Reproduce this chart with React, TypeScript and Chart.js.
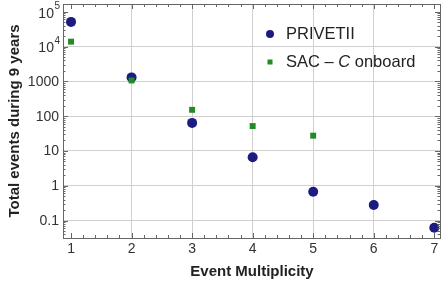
import React, { useEffect, useRef } from "react";
import { Chart, registerables } from "chart.js";

Chart.register(...registerables);

const multiplicity = [1, 2, 3, 4, 5, 6, 7];
const privetii = [51000, 1300, 64, 6.6, 0.67, 0.28, 0.062];
const sacMultiplicity = [1, 2, 3, 4, 5];
const sacC = [13800, 1060, 152, 52, 27.5];
const yTickValues = [0.1, 1, 10, 100, 1000, 10000, 100000];
const xTickValues = [1, 2, 3, 4, 5, 6, 7];
const yTickLabels = ["0.1", "1", "10", "100", "1000", "10^4", "10^5"];

const FONT = "'Liberation Sans', Arial, sans-serif";
const BLUE = "#1b1b82";
const GREEN = "#238b23";
const FRAME = "#666666";
const GRID = "#d0d0d0";

const framePlugin = {
  id: "framePlugin",
  afterDraw(chart: any) {
    const ctx = chart.ctx;
    const { left, right, top, bottom } = chart.chartArea;
    const xs = chart.scales.x;
    const ys = chart.scales.y;
    ctx.save();
    ctx.strokeStyle = FRAME;
    ctx.lineWidth = 1;
    ctx.strokeRect(Math.round(left) + 0.5, Math.round(top) + 0.5, Math.round(right - left) - 1, Math.round(bottom - top));
    // x ticks
    ctx.beginPath();
    for (let i = 0; i <= 35; i++) {
      const v = 0.8 + i * 0.2;
      const px = Math.round(xs.getPixelForValue(v)) + 0.5;
      if (px < left || px > right - 1) continue;
      const major = Math.abs(v - Math.round(v)) < 1e-6;
      const len = major ? 5 : 3;
      ctx.moveTo(px, bottom);
      ctx.lineTo(px, bottom - len);
      ctx.moveTo(px, top);
      ctx.lineTo(px, top + len);
    }
    // y ticks
    for (let e = -2; e <= 5; e++) {
      for (let m = 1; m <= 9; m++) {
        const v = m * Math.pow(10, e);
        const py = Math.round(ys.getPixelForValue(v)) + 0.5;
        if (py < top || py > bottom) continue;
        const len = m === 1 ? 5 : 2.5;
        ctx.moveTo(left, py);
        ctx.lineTo(left + len, py);
        ctx.moveTo(right - 1, py);
        ctx.lineTo(right - 1 - len, py);
      }
    }
    ctx.stroke();

    // x tick labels
    ctx.fillStyle = "#333333";
    ctx.textAlign = "center";
    ctx.textBaseline = "middle";
    ctx.font = `14px ${FONT}`;
    xTickValues.forEach((v) => {
      ctx.fillText(String(v), xs.getPixelForValue(v), bottom + 11.5);
    });

    // y tick labels
    ctx.textAlign = "right";
    const lx = left - 4;
    yTickValues.forEach((v, i) => {
      const py = ys.getPixelForValue(v);
      const lab = yTickLabels[i];
      if (lab.indexOf("^") >= 0) {
        const [base, sup] = lab.split("^");
        ctx.font = `10px ${FONT}`;
        const sw = ctx.measureText(sup).width;
        ctx.fillText(sup, lx + 1, py - 5);
        ctx.font = `14px ${FONT}`;
        ctx.fillText(base, lx + 0.5 - sw, py + 2);
      } else {
        ctx.font = `14px ${FONT}`;
        ctx.fillText(lab, lx, py + 0.5);
      }
    });

    // legend
    const lxm = 270;
    const ly1 = 34;
    const ly2 = 62;
    ctx.fillStyle = BLUE;
    ctx.beginPath();
    ctx.arc(lxm, ly1, 4, 0, Math.PI * 2);
    ctx.fill();
    ctx.fillStyle = GREEN;
    ctx.fillRect(lxm - 2.5, ly2 - 2.5, 5, 5);
    ctx.fillStyle = "#222222";
    ctx.textAlign = "left";
    ctx.textBaseline = "middle";
    const lf = 16.5;
    ctx.font = `${lf}px ${FONT}`;
    ctx.fillText("PRIVETII", 286, ly1);
    let tx = 286;
    const seg1 = "SAC \u2013 ";
    ctx.fillText(seg1, tx, ly2);
    tx += ctx.measureText(seg1).width;
    ctx.font = `italic ${lf}px ${FONT}`;
    ctx.fillText("C", tx, ly2);
    tx += ctx.measureText("C").width;
    ctx.font = `${lf}px ${FONT}`;
    ctx.fillText(" onboard", tx, ly2);
    ctx.restore();
  },
};

export default function App() {
  const ref = useRef<HTMLCanvasElement | null>(null);
  useEffect(() => {
    if (!ref.current) return;
    Chart.defaults.font.family = FONT;
    const chart = new Chart(ref.current, {
      type: "scatter",
      data: {
        datasets: [
          {
            label: "PRIVETII",
            data: multiplicity.map((x, i) => ({ x, y: privetii[i] })),
            pointStyle: "circle",
            pointRadius: 5,
            pointBackgroundColor: BLUE,
            pointBorderColor: BLUE,
            pointBorderWidth: 0,
            clip: false,
            order: 2,
          },
          {
            label: "SAC - C onboard",
            data: sacMultiplicity.map((x, i) => ({ x, y: sacC[i] })),
            pointStyle: "rect",
            pointRadius: 4.2,
            pointBackgroundColor: GREEN,
            pointBorderColor: GREEN,
            pointBorderWidth: 0,
            clip: false,
            order: 1,
          },
        ],
      },
      options: {
        animation: false,
        responsive: false,
        layout: { autoPadding: false, padding: { left: 0, top: 4, right: 0, bottom: 0 } },
        plugins: { legend: { display: false }, tooltip: { enabled: false } },
        scales: {
          x: {
            type: "linear",
            min: 0.8675,
            max: 7.111,
            afterBuildTicks: (scale: any) => {
              scale.ticks = xTickValues.map((v) => ({ value: v }));
            },
            afterFit: (scale: any) => {
              scale.height = 46;
            },
            ticks: { display: false },
            grid: {
              drawTicks: false,
              color: (c: any) => (c.tick && c.tick.value >= 2 && c.tick.value <= 6 ? GRID : "rgba(0,0,0,0)"),
            },
            border: { display: false },
            title: {
              display: true,
              text: "Event Multiplicity",
              color: "#222222",
              font: { size: 15, weight: "bold", family: FONT },
              padding: { top: 0, bottom: 3.5 },
            },
          },
          y: {
            type: "logarithmic",
            min: 0.0316,
            max: 166700,
            afterBuildTicks: (scale: any) => {
              scale.ticks = yTickValues.map((v) => ({ value: v }));
            },
            afterFit: (scale: any) => {
              scale.width = 63;
            },
            ticks: { display: false },
            grid: {
              drawTicks: false,
              color: (c: any) => (c.tick && c.tick.value <= 10000 ? GRID : "rgba(0,0,0,0)"),
            },
            border: { display: false },
            title: {
              display: true,
              text: "Total events during 9 years",
              color: "#222222",
              font: { size: 15, weight: "bold", family: FONT },
              padding: { top: 6, bottom: 0 },
            },
          },
        },
      },
      plugins: [framePlugin],
    } as any);
    return () => chart.destroy();
  }, []);
  return (
    <div style={{ position: "absolute", left: 0, top: 0, width: 441, height: 284, background: "#fff" }}>
      <canvas ref={ref} width={441} height={284} style={{ display: "block" }} />
    </div>
  );
}
